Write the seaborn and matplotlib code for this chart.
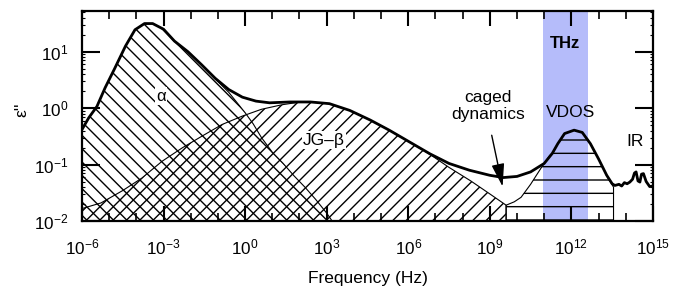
import numpy as np
import matplotlib
matplotlib.use("Agg")
import matplotlib.pyplot as plt
import seaborn as sns
from matplotlib.ticker import FixedLocator, LogLocator, NullFormatter, LogFormatterSciNotation

# ---------------------------------------------------------
# values: log10(frequency / Hz), log10(eps'')
# ---------------------------------------------------------
total_logf = [-6.0, -5.75, -5.45, -5.15, -4.8, -4.4, -4.05, -3.7, -3.4, -3.0,
              -2.6, -2.1, -1.6, -1.1, -0.6, -0.1, 0.4, 0.9, 1.65, 2.4,
              3.1, 3.85, 4.6, 5.3, 6.05, 6.8, 7.5, 8.25, 9.0, 9.5,
              10.0, 10.5, 11.0, 11.3, 11.5, 11.75, 12.1, 12.4, 12.7, 13.0,
              13.3, 13.5, 13.6]
total_logeps = [-0.38, -0.17, 0.03, 0.36, 0.70, 1.10, 1.39, 1.50, 1.50, 1.40,
                1.19, 1.00, 0.77, 0.53, 0.33, 0.195, 0.125, 0.095, 0.11, 0.11,
                0.08, -0.04, -0.21, -0.39, -0.60, -0.81, -0.98, -1.10, -1.19, -1.23,
                -1.21, -1.13, -0.98, -0.80, -0.63, -0.45, -0.39, -0.43, -0.63, -0.90,
                -1.19, -1.34, -1.37]

# infrared wiggles at the high-frequency end
ir_logf = [13.6, 13.75, 13.85, 13.95, 14.05, 14.15, 14.25, 14.32, 14.38, 14.45,
           14.52, 14.58, 14.65, 14.75, 14.88, 15.0]
ir_logeps = [-1.37, -1.35, -1.38, -1.32, -1.34, -1.31, -1.26, -1.15, -1.13, -1.29,
             -1.31, -1.17, -1.16, -1.30, -1.39, -1.38]

alpha_logf = [-6.0, -5.75, -5.45, -5.15, -4.8, -4.4, -4.05, -3.7, -3.4, -3.0,
              -2.6, -2.1, -1.6, -1.1, -0.6, -0.3, 0.0, 0.3, 0.6, 1.0,
              1.4, 1.8, 2.2, 2.6, 3.0, 3.2]
alpha_logeps = [-0.38, -0.17, 0.03, 0.36, 0.70, 1.10, 1.39, 1.50, 1.50, 1.40,
                1.19, 1.00, 0.77, 0.52, 0.28, 0.10, -0.08, -0.28, -0.52, -0.78,
                -0.98, -1.20, -1.40, -1.62, -1.86, -2.0]

beta_logf = [-6.0, -5.3, -4.5, -3.8, -3.05, -2.3, -1.6, -0.85, -0.1, 0.6,
             1.35, 1.9, 2.4, 3.1, 3.85, 4.6, 5.3, 6.05, 6.8, 7.5,
             8.3, 9.0, 9.6]
beta_logeps = [-1.78, -1.68, -1.46, -1.24, -0.94, -0.70, -0.50, -0.29, -0.14, -0.02,
               0.06, 0.10, 0.11, 0.08, -0.04, -0.21, -0.39, -0.60, -0.82, -1.05,
               -1.29, -1.52, -1.72]

vdos_logf = [9.6, 9.9, 10.15, 10.5, 10.9, 11.2, 11.3, 11.5, 11.75, 12.1,
             12.4, 12.7, 13.0, 13.3, 13.55]
vdos_logeps = [-1.72, -1.66, -1.58, -1.35, -1.05, -0.84, -0.80, -0.63, -0.45, -0.39,
               -0.43, -0.63, -0.90, -1.20, -1.40]

thz_band = (10 ** 10.95, 10 ** 12.6)
x_lim = (1e-6, 1e15)
y_lim = (1e-2, 53)
x_major = [1e-6, 1e-3, 1e0, 1e3, 1e6, 1e9, 1e12, 1e15]
x_minor = [10.0 ** k for k in range(-6, 16)]

# figure is rendered at 80 dpi so the diagonal hatching gets the original pitch;
# K converts sizes tuned for 100 dpi
DPI = 80
K = 100 / DPI


def to_lin(logs):
    return 10.0 ** np.asarray(logs, dtype=float)


sns.set_theme(style="ticks")
plt.rcParams["font.family"] = ["Liberation Sans", "DejaVu Sans"]
plt.rcParams["mathtext.fontset"] = "custom"
plt.rcParams["mathtext.rm"] = "Liberation Sans"
plt.rcParams["mathtext.it"] = "Liberation Sans:italic"
plt.rcParams["mathtext.bf"] = "Liberation Sans:bold"
plt.rcParams["hatch.linewidth"] = 1.0 * K
plt.rcParams["hatch.color"] = "black"
for key in ["text.color", "axes.labelcolor", "xtick.color", "ytick.color",
            "xtick.labelcolor", "ytick.labelcolor", "axes.edgecolor"]:
    plt.rcParams[key] = "black"

fig, ax = plt.subplots(figsize=(683 / DPI, 287 / DPI), dpi=DPI)
fig.subplots_adjust(left=0.12, right=0.956, top=0.962, bottom=0.23)

ax.set_xscale("log")
ax.set_yscale("log")

# THz window
ax.axvspan(*thz_band, color="#b5bcfa", lw=0, zorder=0)

# hatched contributions
floor = y_lim[0]
ax.fill_between(to_lin(alpha_logf), to_lin(alpha_logeps), floor,
                facecolor="none", edgecolor="black", hatch="\\\\", lw=0.8 * K, zorder=2)
ax.fill_between(to_lin(beta_logf), to_lin(beta_logeps), floor,
                facecolor="none", edgecolor="black", hatch="//", lw=0.8 * K, zorder=2)
ax.fill_between(to_lin(vdos_logf), to_lin(vdos_logeps), floor,
                facecolor="none", edgecolor="black", hatch="-", lw=0.8 * K, zorder=2)

# total loss spectrum
sns.lineplot(x=to_lin(total_logf + ir_logf), y=to_lin(total_logeps + ir_logeps),
             sort=False, estimator=None, color="black", lw=2.0 * K, ax=ax, zorder=4)

ax.set_xlim(*x_lim)
ax.set_ylim(*y_lim)

ax.xaxis.set_major_locator(FixedLocator(x_major))
ax.xaxis.set_minor_locator(FixedLocator(x_minor))
ax.xaxis.set_major_formatter(LogFormatterSciNotation())
ax.xaxis.set_minor_formatter(NullFormatter())
ax.yaxis.set_major_locator(LogLocator(base=10, numticks=10))
ax.yaxis.set_minor_locator(LogLocator(base=10, subs=np.arange(2, 10), numticks=10))
ax.yaxis.set_minor_formatter(NullFormatter())

ax.tick_params(which="both", direction="in", top=True, right=True,
               labelsize=12.3 * K, colors="black")
ax.tick_params(axis="x", which="major", length=11 * K, width=1.5 * K, pad=12 * K)
ax.tick_params(axis="x", which="minor", length=6 * K, width=1.2 * K)
ax.tick_params(axis="y", which="major", length=13 * K, width=1.5 * K, pad=10 * K)
ax.tick_params(axis="y", which="minor", length=2.5 * K, width=0.8 * K)
for s in ax.spines.values():
    s.set_linewidth(1.6 * K)
    s.set_color("black")

ax.set_xlabel("Frequency (Hz)", fontsize=12.5 * K, labelpad=10 * K)
ax.set_ylabel("")
fig.text(22 / 683, 1 - 110 / 287, "\u03b5''", rotation=90, fontsize=12.5 * K,
         ha="center", va="center")

white = dict(facecolor="white", edgecolor="none", pad=1.0 * K)
ax.text(10 ** -3.1, 10 ** 0.21, "\u03b1", fontsize=12 * K, ha="center", va="center",
        bbox=white, zorder=3)
ax.text(10 ** 2.9, 10 ** -0.57, "JG\u2013\u03b2", fontsize=12.5 * K, ha="center",
        va="center", bbox=white, zorder=3)
ax.text(10 ** 8.93, 10 ** 0.044, "caged\ndynamics", fontsize=12.5 * K, ha="center",
        va="center", linespacing=1.15, zorder=5)
ax.text(10 ** 11.76, 10 ** 1.14, "THz", fontsize=12 * K, fontweight="bold",
        ha="center", va="center", zorder=5)
ax.text(10 ** 11.98, 10 ** -0.08, "VDOS", fontsize=12.5 * K, ha="center",
        va="center", zorder=5)
ax.text(10 ** 14.33, 10 ** -0.595, "IR", fontsize=12.5 * K, ha="center",
        va="center", zorder=5)

ax.annotate("", xy=(10 ** 9.47, 10 ** -1.39), xytext=(10 ** 9.07, 10 ** -0.48),
            arrowprops=dict(arrowstyle="-|>,head_length=1.0,head_width=0.28",
                            mutation_scale=14 * K, color="black", lw=1.0 * K,
                            shrinkA=0, shrinkB=0),
            zorder=6)

fig.savefig("out.png", dpi=DPI)
